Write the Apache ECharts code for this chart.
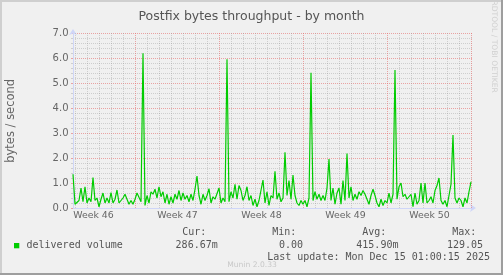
<!DOCTYPE html>
<html><head><meta charset="utf-8">
<script src="https://cdn.jsdelivr.net/npm/echarts@6/dist/echarts.min.js"></script>
<style>html,body{margin:0;padding:0;background:#f0f0f0}#c{width:503px;height:275px}</style>
</head><body><div id="c"></div>
<script>
const chartTitle = 'Postfix bytes throughput - by month';
const yAxisName = 'bytes / second';
const weekLabels = ['Week 46', 'Week 47', 'Week 48', 'Week 49', 'Week 50'];
const weekMidHours = [41, 209, 377, 545, 713];
const weekStartHours = [125, 293, 461, 629, 797];
const stepHours = 4;
const deliveredVolume = [
  1.35,0.15,0.2,0.3,0.8,0.25,0.85,0.2,0.4,0.25,
  1.22,0.3,0.4,0.05,0.35,0.6,0.2,0.4,0.2,0.62,
  0.2,0.35,0.72,0.2,0.15,0.4,0.55,0.6,0.15,0.3,
  0.15,0.35,0.6,0.55,0.25,6.19,0.1,0.5,0.2,0.65,
  0.55,0.75,0.4,0.85,0.45,0.65,0.2,0.55,0.15,0.45,
  0.2,0.55,0.35,0.7,0.3,0.6,0.35,0.5,0.25,0.55,
  0.3,0.75,1.28,0.5,0.15,0.55,0.3,0.5,0.77,0.2,
  0.45,0.35,0.4,0.8,0.2,0.4,0.25,5.95,0.25,0.65,
  0.4,0.95,0.35,0.9,0.7,0.3,0.5,0.85,0.3,0.5,
  0.1,0.35,0.05,0.3,0.25,1.12,0.2,0.65,0.1,0.5,
  0.4,1.47,0.35,0.6,0.25,0.4,2.23,0.5,1.1,0.35,
  1.32,0.5,0.2,0.1,0.3,0.15,0.3,0.05,0.4,5.41,
  0.3,0.65,0.35,0.55,0.3,0.5,0.3,0.8,1.96,0.3,
  0.8,0.15,0.6,0.8,0.15,1.1,0.3,2.18,0.4,0.85,
  0.3,0.55,0.35,0.65,0.5,0.7,0.55,0.5,0.15,0.5,
  0.75,0.5,0.2,0.05,0.35,0.1,0.3,0.2,0.6,0.2,
  0.55,5.52,0.35,0.85,1.0,0.45,0.55,0.35,0.3,0.55,
  0.05,0.6,0.15,0.3,1.0,0.2,1.0,0.2,0.3,0.45,
  0.2,0.7,0.9,1.2,0.3,0.15,0.3,0.05,0.5,0.95,
  2.92,0.4,0.2,0.4,0.3,0.05,0.4,0.2,0.65,1.05
];
const legendName = 'delivered volume';
const statHeaders = ['Cur:', 'Min:', 'Avg:', 'Max:'];
const statValues = ['286.67m', '0.00', '415.90m', '129.05'];
const lastUpdate = 'Last update: Mon Dec 15 01:00:15 2025';
const footerText = 'Munin 2.0.33';
const watermark = 'RRDTOOL / TOBI OETIKER';

const chart = echarts.init(document.getElementById('c'), null, {renderer: 'canvas'});
const dayLines = [];
for (let h = 5; h <= 797; h += 24) dayLines.push(h);
const gridColor = 'rgba(150,150,150,0.38)';
const majorColor = 'rgba(230,110,110,0.6)';
const mono = 'DejaVu Sans Mono';
const headerX = [182.3, 272.3, 362.3, 452.3];
const valueX = [175.6, 278.9, 356.3, 446.9];
const graphics = [
  {type:'rect', shape:{x:0,y:0,width:503,height:2}, style:{fill:'#cfcfcf'}, silent:true},
  {type:'rect', shape:{x:0,y:0,width:2,height:275}, style:{fill:'#cfcfcf'}, silent:true},
  {type:'rect', shape:{x:501,y:0,width:2,height:275}, style:{fill:'#9e9e9e'}, silent:true},
  {type:'rect', shape:{x:0,y:273,width:503,height:2}, style:{fill:'#9e9e9e'}, silent:true},
  {type:'text', x:11, y:120.8, rotation:Math.PI/2, style:{text:yAxisName, fontFamily:'DejaVu Sans', fontSize:11.5, fill:'#666', textAlign:'center', textVerticalAlign:'middle'}},
  {type:'text', x:493.5, y:44, rotation:-Math.PI/2, style:{text:watermark, fontFamily:'DejaVu Sans', fontSize:7.6, fill:'#d0d0d0', textAlign:'center', textVerticalAlign:'middle'}},
  {type:'rect', shape:{x:14,y:243,width:5.3,height:5.3}, style:{fill:'#00cc00'}},
  {type:'text', x:26.5, y:245.5, style:{text:legendName, fontFamily:mono, fontSize:10, fill:'#555', textAlign:'left', textVerticalAlign:'middle'}},
  {type:'text', x:267.2, y:257.3, style:{text:lastUpdate, fontFamily:mono, fontSize:10, fill:'#555', textAlign:'left', textVerticalAlign:'middle'}},
  {type:'text', x:252, y:265.5, style:{text:footerText, fontFamily:'DejaVu Sans', fontSize:7.6, fill:'#c8c8c8', textAlign:'center', textVerticalAlign:'middle'}}
];
statHeaders.forEach((t, i) => graphics.push({type:'text', x:headerX[i], y:232.7, style:{text:t, fontFamily:mono, fontSize:10, fill:'#555', textAlign:'left', textVerticalAlign:'middle'}}));
statValues.forEach((t, i) => graphics.push({type:'text', x:valueX[i], y:245.3, style:{text:t, fontFamily:mono, fontSize:10, fill:'#555', textAlign:'left', textVerticalAlign:'middle'}}));

chart.setOption({
  backgroundColor: '#f0f0f0',
  animation: false,
  title: {text: chartTitle, left: 'center', top: 5, textStyle: {fontFamily: 'DejaVu Sans', fontSize: 12.5, fontWeight: 'normal', color: '#555'}},
  grid: {left: 73, top: 33, width: 399, height: 175, containLabel: false},
  xAxis: {
    type: 'value', min: 0, max: 798,
    axisLine: {show: true, lineStyle: {color: '#cfd6f8', width: 1}, symbol: ['none', 'arrow'], symbolSize: [6, 6], symbolOffset: [0, 4]},
    axisTick: {show: false},
    splitLine: {show: false},
    axisLabel: {customValues: weekMidHours, formatter: v => weekLabels[weekMidHours.indexOf(v)], fontFamily: 'DejaVu Sans', fontSize: 9.4, color: '#666', margin: 3}
  },
  yAxis: {
    type: 'value', min: 0, max: 7, interval: 1,
    axisLine: {show: true, lineStyle: {color: '#cfd6f8', width: 1}, symbol: ['none', 'arrow'], symbolSize: [6, 6], symbolOffset: [0, 4]},
    axisTick: {show: true, length: 2, lineStyle: {color: majorColor}},
    minorTick: {show: true, splitNumber: 5, length: 2, lineStyle: {color: gridColor}},
    axisLabel: {formatter: v => v.toFixed(1), fontFamily: 'DejaVu Sans', fontSize: 10, color: '#666', margin: 4.5},
    splitLine: {show: true, lineStyle: {color: majorColor, type: [1, 1], width: 1}},
    minorSplitLine: {show: true, lineStyle: {color: gridColor, type: [1, 1], width: 1}}
  },
  series: [
    {
      type: 'line', data: [], z: 1, silent: true,
      markLine: {
        silent: true, symbol: 'none', label: {show: false}, animation: false,
        data: dayLines.map(h => ({xAxis: h, lineStyle: {color: weekStartHours.includes(h) ? majorColor : gridColor, type: [1, 1], width: 1}}))
      }
    },
    {
      name: legendName, type: 'line', z: 5, showSymbol: false, symbol: 'none', sampling: null,
      data: deliveredVolume.map((v, i) => [i * stepHours, v]),
      lineStyle: {color: '#00cc00', width: 1.2},
      itemStyle: {color: '#00cc00'}
    }
  ],
  graphic: graphics
});
</script></body></html>
